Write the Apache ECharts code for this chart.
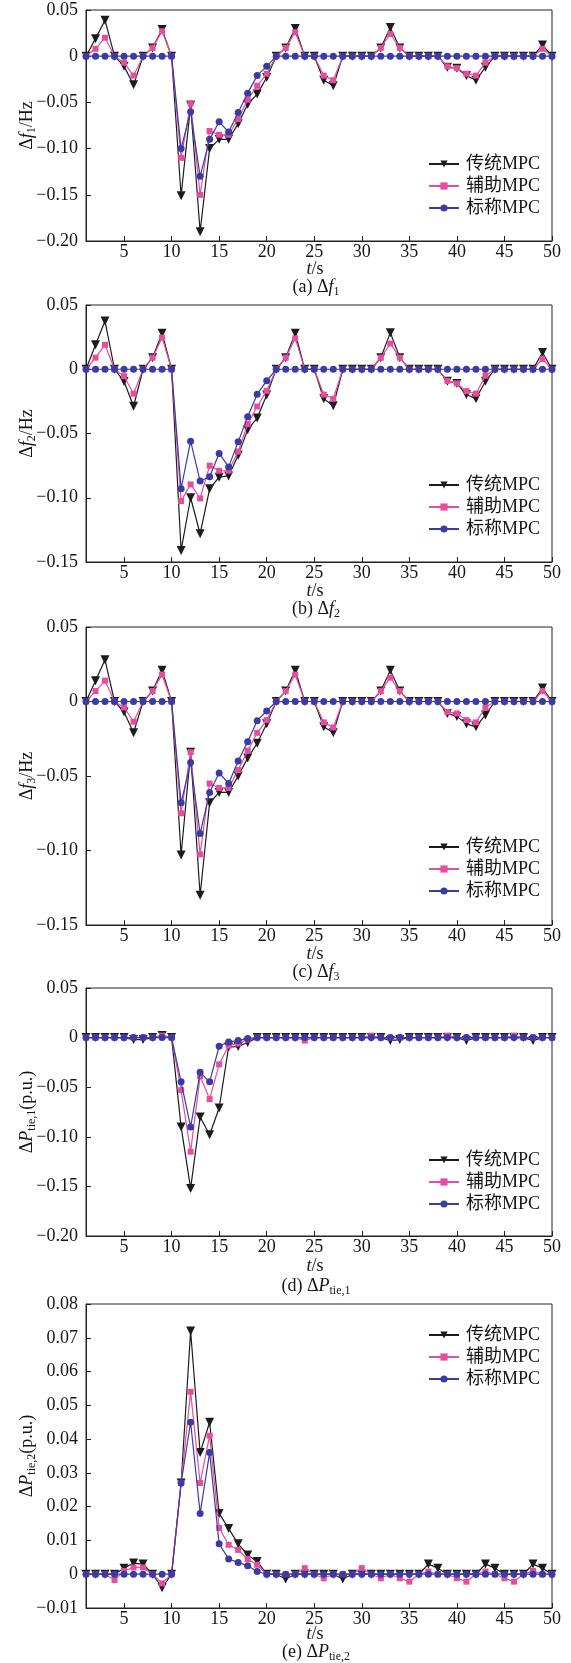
<!DOCTYPE html>
<html><head><meta charset="utf-8">
<script src="https://cdn.jsdelivr.net/npm/echarts/dist/echarts.min.js"></script>
<style>html,body{margin:0;padding:0;background:#fff}#c{width:571px;height:1663px}</style>
</head><body><div id="c"></div>
<script>
// ---- data ----
const T = [1,2,3,4,5,6,7,8,9,10,11,12,13,14,15,16,17,18,19,20,21,22,23,24,25,26,27,28,29,30,31,32,33,34,35,36,37,38,39,40,41,42,43,44,45,46,47,48,49,50];
const X_TICKS = [5,10,15,20,25,30,35,40,45,50];
const SERIES_NAMES = ['传统MPC','辅助MPC','标称MPC'];

const f1Trad = [0,0.019,0.039,0,-0.011,-0.031,0,0.009,0.029,0, -0.151,-0.053,-0.19,-0.10,-0.09,-0.09,-0.073,-0.052,-0.041,-0.023, 0,0.009,0.03,0,0,-0.026,-0.032,0,0,0, 0,0.009,0.031,0.009,0,0,0,0,-0.012,-0.013, -0.021,-0.026,-0.012,0,0,0,0,0,0.012,0];
const f1Aux  = [0,0.008,0.02,0,-0.007,-0.021,0,0.009,0.027,0, -0.11,-0.051,-0.15,-0.081,-0.085,-0.085,-0.068,-0.047,-0.032,-0.019, 0,0.009,0.026,0,0,-0.021,-0.026,0,0,0, 0,0.009,0.024,0.009,0,0,0,0,-0.011,-0.013, -0.019,-0.021,-0.007,0,0,0,0,0,0.008,0];
const f1Nom  = [0,0,0,0,0,0,0,0,0,0, -0.10,-0.06,-0.13,-0.09,-0.071,-0.082,-0.061,-0.04,-0.021,-0.011, 0,0,0,0,0,0,0,0,0,0, 0,0,0,0,0,0,0,0,0,0, 0,0,0,0,0,0,0,0,0,0];

const f2Trad = [0,0.019,0.0375,0,-0.0095,-0.0288,0,0.009,0.028,0, -0.141,-0.10,-0.128,-0.093,-0.084,-0.083,-0.067,-0.047,-0.038,-0.02, 0,0.009,0.028,0,0,-0.023,-0.0285,0,0,0, 0,0.009,0.0285,0.009,0,0,0,0,-0.0093,-0.011, -0.0197,-0.023,-0.0093,0,0,0,0,0,0.013,0];
const f2Aux  = [0,0.009,0.019,0,-0.0054,-0.019,0,0.009,0.0246,0, -0.1026,-0.0896,-0.1005,-0.075,-0.079,-0.079,-0.064,-0.0427,-0.029,-0.0168, 0,0.009,0.024,0,0,-0.0197,-0.023,0,0,0, 0,0.009,0.02,0.009,0,0,0,0,-0.009,-0.011, -0.017,-0.019,-0.005,0,0,0,0,0,0.008,0];
const f2Nom  = [0,0,0,0,0,0,0,0,0,0, -0.093,-0.056,-0.087,-0.0837,-0.0655,-0.076,-0.0565,-0.037,-0.0194,-0.009, 0,0,0,0,0,0,0,0,0,0, 0,0,0,0,0,0,0,0,0,0, 0,0,0,0,0,0,0,0,0,0];

const f3Trad = [0,0.014,0.028,0,-0.007,-0.021,0,0.007,0.021,0, -0.103,-0.034,-0.13,-0.068,-0.061,-0.061,-0.05,-0.038,-0.028,-0.015, 0,0.007,0.021,0,0,-0.017,-0.021,0,0,0, 0,0.007,0.021,0.007,0,0,0,0,-0.008,-0.01, -0.015,-0.017,-0.009,0,0,0,0,0,0.009,0];
const f3Aux  = [0,0.007,0.014,0,-0.004,-0.0136,0,0.007,0.018,0, -0.075,-0.034,-0.1026,-0.055,-0.058,-0.058,-0.046,-0.033,-0.021,-0.0125, 0,0.007,0.018,0,0,-0.014,-0.0174,0,0,0, 0,0.007,0.016,0.007,0,0,0,0,-0.007,-0.008, -0.0125,-0.014,-0.004,0,0,0,0,0,0.007,0];
const f3Nom  = [0,0,0,0,0,0,0,0,0,0, -0.068,-0.041,-0.0886,-0.061,-0.048,-0.055,-0.04,-0.027,-0.0129,-0.0063, 0,0,0,0,0,0,0,0,0,0, 0,0,0,0,0,0,0,0,0,0, 0,0,0,0,0,0,0,0,0,0];

const p1Trad = [0,0,0,0,0,-0.002,-0.002,0,0.002,0, -0.09,-0.152,-0.08,-0.098,-0.071,-0.0094,-0.009,-0.005,0,0, 0,0,0,0,0,0,0,0,0,0, 0,0,-0.003,-0.002,0,0,0,0,0,0, -0.003,0,0,0,0,0,0,-0.003,0,0];
const p1Aux  = [0,0,0,0,0,0,0,0,0.002,0, -0.053,-0.115,-0.039,-0.062,-0.027,-0.008,-0.006,-0.002,0,0, 0,0,0,-0.003,0,0,0,0,0,0, 0.002,0,0,0,0,0,0,0,0.002,0, 0,0,0,0,0,0.002,0,0,0,0];
const p1Nom  = [0,0,0,0,0,0,0,0,0,0, -0.0446,-0.09,-0.035,-0.0446,-0.0087,-0.0044,-0.003,-0.001,0,0, 0,0,0,0,0,0,0,0,0,0, 0,0,0,0,0,0,0,0,0,0, 0,0,0,0,0,0,0,0,0,0];

const p2Trad = [0,0,0,0,0.0018,0.0033,0.003,0,-0.004,0, 0.027,0.072,0.036,0.045,0.018,0.0135,0.009,0.0057,0.0038,0, 0,-0.0014,0,0,0,0,0,-0.0014,0,0, 0,0,0,0,0,0,0.003,0.0018,0,0, 0,0,0.003,0.0018,0,0,0,0.003,0.0018,0];
const p2Aux  = [0,0,0,-0.0017,0.001,0.002,0.002,0,-0.0027,0, 0.027,0.054,0.027,0.041,0.0137,0.0087,0.0072,0.0045,0.0028,0, 0,0,0,0.0018,0,-0.0012,0,0,0,0.0018, 0,-0.0012,0,-0.0012,-0.0022,0,0.0008,0,0,-0.0012, -0.0022,0,0.0008,0,-0.0012,-0.0022,0,0.001,0,0];
const p2Nom  = [0,0,0,0,0,0,0,0,0,0, 0.027,0.045,0.018,0.036,0.009,0.0045,0.0035,0.0025,0.0008,0, 0,0,0,0,0,0,0,0,0,0, 0,0,0,0,0,0,0,0,0,0, 0,0,0,0,0,0,0,0,0,0];

const yNames = ['{n|Δ}{i|f}{sub|1}{n|/Hz}','{n|Δ}{i|f}{sub|2}{n|/Hz}','{n|Δ}{i|f}{sub|3}{n|/Hz}','{n|Δ}{i|P}{sub|tie,1}{n|(p.u.)}','{n|Δ}{i|P}{sub|tie,2}{n|(p.u.)}'];
const captions = ['{n|(a) Δ}{i|f}{sub|1}','{n|(b) Δ}{i|f}{sub|2}','{n|(c) Δ}{i|f}{sub|3}','{n|(d) Δ}{i|P}{sub|tie,1}','{n|(e) Δ}{i|P}{sub|tie,2}'];
const yMin = [-0.2,-0.15,-0.15,-0.2,-0.01];
const yMax = [0.05,0.05,0.05,0.05,0.08];
const yStep = [0.05,0.05,0.05,0.05,0.01];
const panelData = [[f1Trad,f1Aux,f1Nom],[f2Trad,f2Aux,f2Nom],[f3Trad,f3Aux,f3Nom],[p1Trad,p1Aux,p1Nom],[p2Trad,p2Aux,p2Nom]];

// ---- layout ----
const GL = 86, GR = 19;
const gTop = [10,305,627,988,1304];
const gH = [231,257,298,248,304];
const legTop = [149,470,832,1145,1320];
const capY = [288,610,973,1287,1653];
const xNameGap = [17,18,18,19,15];
const FONT = '"Liberation Serif","Times New Roman","Noto Sans CJK SC",serif';
const INK = '#151515';
const COLORS = ['#1c1c1c','#e64d9d','#3b3ba6'];
const SYMS = ['triangle','rect','circle'];
const SYMSIZE = [9,6,7];
const rich = {
  n:{fontFamily:FONT,fontSize:18,color:INK,lineHeight:22},
  i:{fontFamily:FONT,fontSize:18,fontStyle:'italic',color:INK,lineHeight:22},
  sub:{fontFamily:FONT,fontSize:12,color:INK,lineHeight:12,padding:[10,0,0,0]}
};
function fmtY(v){ if(Math.abs(v)<1e-9) return '0'; return v.toFixed(2).replace('-','\u2212'); }

const grid=[],xAxis=[],yAxis=[],series=[],legend=[],title=[];
for(let k=0;k<5;k++){
  grid.push({left:GL,right:GR,top:gTop[k],height:gH[k],show:true,borderColor:'#222',borderWidth:1,backgroundColor:'transparent',containLabel:false,outerBoundsMode:'none'});
  xAxis.push({gridIndex:k,type:'value',min:1,max:50,
    axisLine:{show:true,onZero:false,lineStyle:{color:'#222',width:1}},
    axisTick:{show:true,inside:true,length:5,customValues:X_TICKS,lineStyle:{color:'#222'}},
    axisLabel:{customValues:X_TICKS,fontFamily:FONT,fontSize:18,color:INK,margin:2},
    splitLine:{show:false},nameMoveOverlap:false,
    name:'{i|t}{n|/s}',nameLocation:'middle',nameGap:xNameGap[k],nameTextStyle:{rich:rich,padding:[0,8,0,0]}});
  yAxis.push({gridIndex:k,type:'value',min:yMin[k],max:yMax[k],interval:yStep[k],
    axisLine:{show:true,onZero:false,lineStyle:{color:'#222',width:1}},
    axisTick:{show:true,inside:true,length:5,lineStyle:{color:'#222'}},
    axisLabel:{fontFamily:FONT,fontSize:18,color:INK,margin:8,formatter:fmtY},
    splitLine:{show:false},nameMoveOverlap:false,
    name:yNames[k],nameLocation:'middle',nameRotate:90,nameGap:48,nameTextStyle:{rich:rich}});
  for(let s=0;s<3;s++){
    series.push({type:'line',name:SERIES_NAMES[s],xAxisIndex:k,yAxisIndex:k,
      data:T.map((t,i)=>[t,panelData[k][s][i]]),
      symbol:SYMS[s],symbolSize:SYMSIZE[s],symbolRotate:s===0?180:0,showAllSymbol:true,clip:false,
      lineStyle:{color:COLORS[s],width:1.2},itemStyle:{color:COLORS[s]},
      emphasis:{disabled:true},z:2+s,animation:false});
  }
  legend.push({orient:'vertical',left:423,top:legTop[k],itemWidth:30,itemHeight:9,itemGap:2,
    data:SERIES_NAMES,selectedMode:false,
    textStyle:{fontFamily:FONT,fontSize:18,color:INK,lineHeight:20,padding:[0,0,0,2]}});
  title.push({text:captions[k],left:316,textAlign:'center',top:capY[k]-12,padding:0,
    textStyle:{fontFamily:FONT,fontSize:18,fontWeight:'normal',color:INK,rich:rich}});
}
const chart = echarts.init(document.getElementById('c'),null,{renderer:'canvas'});
chart.setOption({animation:false,backgroundColor:'#fff',grid,xAxis,yAxis,series,legend,title});
</script></body></html>
